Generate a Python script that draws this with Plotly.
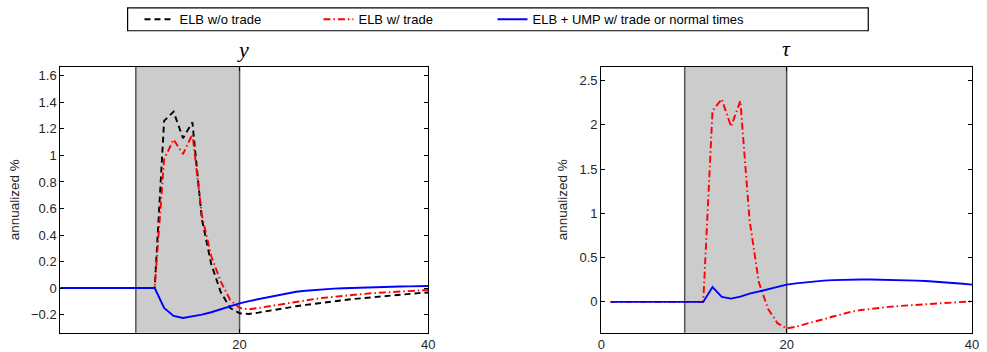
import plotly.graph_objects as go

W, H = 987, 352

t = list(range(1, 41))

# Left panel: y
y_elb_notrade = [0]*11 + [1.26, 1.33, 1.13, 1.25, 0.52, 0.18, -0.03, -0.15, -0.19,
                          -0.195, -0.185, -0.172, -0.160, -0.148, -0.137, -0.127, -0.117, -0.108, -0.099,
                          -0.091, -0.083, -0.076, -0.069, -0.062, -0.056, -0.050, -0.044, -0.038, -0.033]
y_elb_trade = [0]*11 + [0.97, 1.12, 1.01, 1.16, 0.55, 0.24, 0.05, -0.09, -0.15,
                        -0.160, -0.150, -0.138, -0.126, -0.114, -0.102, -0.092, -0.082, -0.073, -0.065,
                        -0.058, -0.051, -0.045, -0.039, -0.034, -0.029, -0.025, -0.021, -0.018, -0.015]
y_ump = [0]*11 + [-0.15, -0.21, -0.225, -0.215, -0.200, -0.182, -0.160, -0.135, -0.115,
                  -0.098, -0.083, -0.069, -0.056, -0.040, -0.028, -0.020, -0.013, -0.008, -0.004,
                  -0.001, 0.002, 0.005, 0.007, 0.009, 0.011, 0.012, 0.013, 0.014, 0.015]

# Right panel: tau
tau_elb_trade = [0]*11 + [2.16, 2.29, 1.98, 2.27, 0.92, 0.22, -0.08, -0.24, -0.30,
                          -0.280, -0.250, -0.225, -0.195, -0.165, -0.135, -0.110, -0.092, -0.078, -0.066,
                          -0.056, -0.047, -0.040, -0.032, -0.025, -0.018, -0.012, -0.006, 0.000, 0.007]
tau_ump = [0]*11 + [0.168, 0.056, 0.037, 0.060, 0.093, 0.120, 0.145, 0.172, 0.195,
                    0.210, 0.222, 0.232, 0.240, 0.246, 0.250, 0.252, 0.253, 0.253, 0.252,
                    0.250, 0.248, 0.245, 0.240, 0.236, 0.230, 0.223, 0.215, 0.205, 0.195]

names = ["ELB w/o trade", "ELB w/ trade", "ELB + UMP w/ trade or normal times"]
shade = (9, 20)

FONT = "Liberation Sans, Arial, sans-serif"
black_dash = "6px,4px"
red_dashdot = "7px,3px,1.5px,3px"
LW = 1.9

fig = go.Figure()

# left panel
fig.add_trace(go.Scatter(x=t, y=y_elb_notrade, mode="lines", name=names[0],
                         line=dict(color="black", dash=black_dash, width=LW),
                         xaxis="x", yaxis="y", legend="legend"))
fig.add_trace(go.Scatter(x=t, y=y_elb_trade, mode="lines", name=names[1],
                         line=dict(color="#ff0000", dash=red_dashdot, width=LW),
                         xaxis="x", yaxis="y", legend="legend2"))
fig.add_trace(go.Scatter(x=t, y=y_ump, mode="lines", name=names[2],
                         line=dict(color="#0000ff", width=LW),
                         xaxis="x", yaxis="y", legend="legend3"))
# right panel
fig.add_trace(go.Scatter(x=t, y=tau_elb_trade, mode="lines", name=names[1], showlegend=False,
                         line=dict(color="#ff0000", dash=red_dashdot, width=LW),
                         xaxis="x2", yaxis="y2"))
fig.add_trace(go.Scatter(x=t, y=tau_ump, mode="lines", name=names[2], showlegend=False,
                         line=dict(color="#0000ff", width=LW),
                         xaxis="x2", yaxis="y2"))

def px_x(p):
    return p / W

def px_y(p):
    return 1 - p / H

ydom = [px_y(335.5), px_y(67.5)]

axis_common = dict(showline=True, linecolor="black", linewidth=1.2, mirror="allticks",
                   ticks="inside", ticklen=4, tickcolor="black", showgrid=False,
                   zeroline=False, tickfont=dict(family=FONT, size=13, color="#262626"))
title_font = dict(family=FONT, size=13.5, color="#262626")

fig.update_layout(
    width=W, height=H,
    margin=dict(l=0, r=0, t=0, b=0),
    paper_bgcolor="white", plot_bgcolor="white",
    xaxis=dict(domain=[px_x(57), px_x(429)], range=[1, 40], tickvals=[0, 20, 40],
               anchor="y", **axis_common),
    yaxis=dict(domain=ydom, range=[-0.336, 1.667], tickvals=[-0.2, 0, 0.2, 0.4, 0.6, 0.8, 1, 1.2, 1.4, 1.6],
               anchor="x", title=dict(text="annualized %", font=title_font, standoff=8), **axis_common),
    xaxis2=dict(domain=[px_x(604), px_x(979)], range=[0, 40], tickvals=[0, 20, 40],
                anchor="y2", **axis_common),
    yaxis2=dict(domain=ydom, range=[-0.347, 2.654], tickvals=[0, 0.5, 1, 1.5, 2, 2.5],
                anchor="x2", title=dict(text="annualized %", font=title_font, standoff=8), **axis_common),
    showlegend=True,
)

leg_common = dict(orientation="h", yanchor="middle", y=px_y(19.5), xanchor="left",
                  bgcolor="rgba(0,0,0,0)", borderwidth=0,
                  font=dict(family=FONT, size=13, color="black"))
fig.update_layout(
    legend=dict(x=px_x(137), **leg_common),
    legend2=dict(x=px_x(318), **leg_common),
    legend3=dict(x=px_x(494), **leg_common),
)

shapes = []
for xr, yr in (("x", "y"), ("x2", "y2")):
    shapes.append(dict(type="rect", xref=xr, yref=yr + " domain", x0=shade[0], x1=shade[1], y0=0, y1=1,
                       fillcolor="#cccccc", line=dict(width=0), layer="below"))
    for xv in shade:
        shapes.append(dict(type="line", xref=xr, yref=yr + " domain", x0=xv, x1=xv, y0=0, y1=1,
                           line=dict(color="#555555", width=1.5), layer="below"))
# legend box
shapes.append(dict(type="rect", xref="paper", yref="paper", x0=px_x(125), x1=px_x(874),
                   y0=px_y(31), y1=px_y(8), line=dict(color="black", width=1.2),
                   fillcolor="rgba(0,0,0,0)"))
fig.update_layout(shapes=shapes)

fig.add_annotation(text="<i>y</i>", xref="paper", yref="paper", x=px_x(242), y=px_y(50),
                   showarrow=False, font=dict(family="Liberation Serif, serif", size=22, color="black"),
                   xanchor="center", yanchor="middle")
fig.add_annotation(text="<i>τ</i>", xref="paper", yref="paper", x=px_x(791), y=px_y(49),
                   showarrow=False, font=dict(family="Liberation Serif, serif", size=22, color="black"),
                   xanchor="center", yanchor="middle")

fig.write_html("out.html")
